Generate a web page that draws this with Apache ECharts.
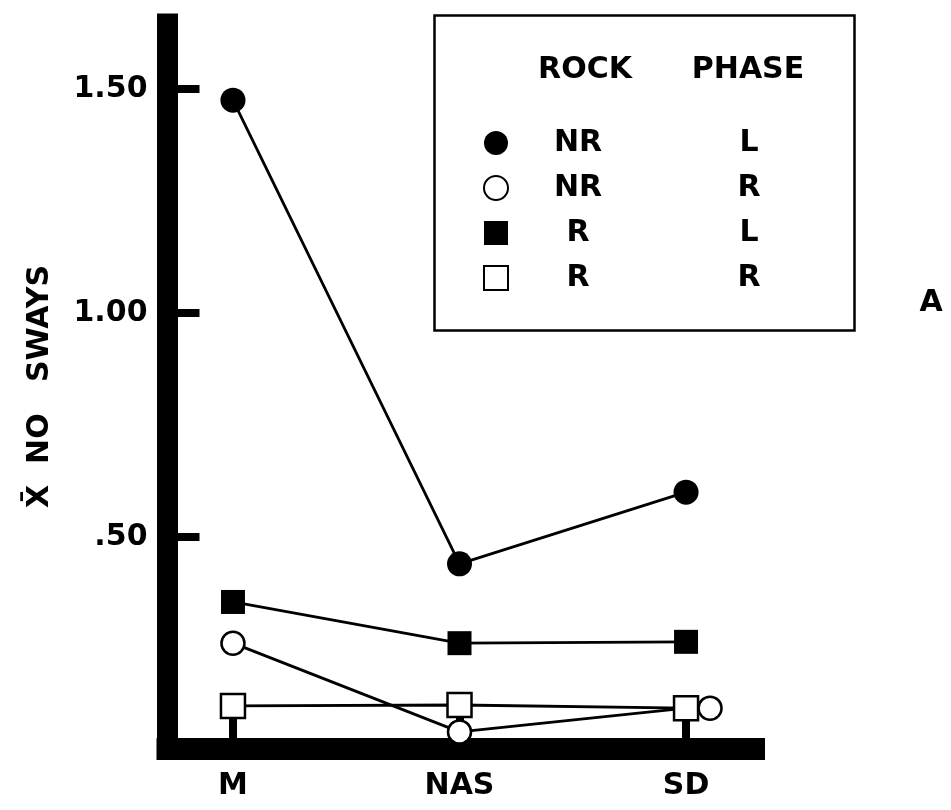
<!DOCTYPE html>
<html>
<head>
<meta charset="utf-8">
<script src="https://cdn.jsdelivr.net/npm/echarts@6/dist/echarts.min.js"></script>
<style>
html,body{margin:0;padding:0;background:#fff;}
#chart{width:951px;height:810px;}
</style>
</head>
<body>
<div id="chart"></div>
<script>
// ---- data ----
const categories = ['M', 'NAS', 'SD'];
const seriesNames = ['NR L', 'NR R', 'R L', 'R R'];
const rockLabels = ['NR', 'NR', 'R', 'R'];
const phaseLabels = ['L', 'R', 'L', 'R'];
const nrL = [1.475, 0.44, 0.60];
const nrR = [0.263, 0.065, 0.118];
const rL = [0.355, 0.263, 0.266];
const rR = [0.123, 0.125, 0.118];
const yTickValues = [0.5, 1.0, 1.5];
const yTickLabels = ['.50', '1.00', '1.50'];

const FONT = 'DejaVu Sans';
const chart = echarts.init(document.getElementById('chart'), null, {renderer: 'canvas'});

function toData(vals) {
  return vals.map((v, i) => [i, v]);
}

const lineStyle = {color: '#000', width: 2.8};

const nrRData = toData(nrR);
// open circle at SD drawn beside the square (as in the original figure)
nrRData[2] = {value: nrRData[2], symbolOffset: [24, 0]};

const option = {
  backgroundColor: '#fff',
  animation: false,
  grid: {left: 167.5, right: 197, top: 24, bottom: 61, containLabel: false},
  xAxis: {
    type: 'value',
    min: -0.289,
    max: 2.30,
    z: 3,
    axisLine: {show: true, onZero: false, lineStyle: {color: '#000', width: 22, cap: 'square'}},
    axisTick: {show: true, inside: true, length: 32, customValues: [0, 1, 2],
               lineStyle: {color: '#000', width: 8}},
    axisLabel: {show: true, customValues: [0, 1, 2], margin: 22,
                formatter: v => categories[Math.round(v)] || '',
                color: '#000', fontFamily: FONT, fontWeight: 'bold', fontSize: 30, lineHeight: 30},
    splitLine: {show: false}
  },
  yAxis: {
    type: 'value',
    min: 0.0268,
    max: 1.645,
    name: 'X\u0304  NO   SWAYS',
    nameLocation: 'middle',
    nameRotate: 90,
    nameGap: 112,
    nameTextStyle: {color: '#000', fontFamily: FONT, fontWeight: 'bold', fontSize: 30},
    z: 3,
    axisLine: {show: true, onZero: false, lineStyle: {color: '#000', width: 21, cap: 'square'}},
    axisTick: {show: true, inside: true, length: 32, customValues: yTickValues,
               lineStyle: {color: '#000', width: 8}},
    axisLabel: {show: true, customValues: yTickValues, margin: 20,
                formatter: v => {
                  const idx = yTickValues.findIndex(t => Math.abs(t - v) < 1e-6);
                  return idx >= 0 ? yTickLabels[idx] : '';
                },
                color: '#000', fontFamily: FONT, fontWeight: 'bold', fontSize: 30},
    splitLine: {show: false}
  },
  legend: {
    orient: 'vertical',
    left: 483,
    top: 128,
    padding: 0,
    itemWidth: 24,
    itemHeight: 24,
    itemGap: 15,
    selectedMode: false,
    data: [
      {name: seriesNames[0], icon: 'circle'},
      {name: seriesNames[1], icon: 'circle'},
      {name: seriesNames[2], icon: 'rect'},
      {name: seriesNames[3], icon: 'rect'}
    ],
    formatter: name => {
      const i = seriesNames.indexOf(name);
      return '{a|' + rockLabels[i] + '}{b|' + phaseLabels[i] + '}';
    },
    textStyle: {
      color: '#000', fontFamily: FONT, fontWeight: 'bold', fontSize: 30, lineHeight: 30,
      rich: {
        a: {width: 130, align: 'center', color: '#000', fontFamily: FONT, fontWeight: 'bold', fontSize: 30, lineHeight: 30},
        b: {width: 212, align: 'center', color: '#000', fontFamily: FONT, fontWeight: 'bold', fontSize: 30, lineHeight: 30}
      }
    }
  },
  graphic: [
    {type: 'rect', left: 432, top: 13, z: 10, silent: true,
     shape: {width: 420, height: 315},
     style: {fill: 'none', stroke: '#000', lineWidth: 2.5}},
    {type: 'text', z: 10, silent: true, x: 585, y: 70,
     style: {text: 'ROCK', fill: '#000', font: 'bold 30px "DejaVu Sans"', align: 'center', verticalAlign: 'middle'}},
    {type: 'text', z: 10, silent: true, x: 748, y: 70,
     style: {text: 'PHASE', fill: '#000', font: 'bold 30px "DejaVu Sans"', align: 'center', verticalAlign: 'middle'}},
    {type: 'text', z: 10, silent: true, x: 931, y: 303,
     style: {text: 'A', fill: '#000', font: 'bold 30px "DejaVu Sans"', align: 'center', verticalAlign: 'middle'}}
  ],
  series: [
    {name: seriesNames[0], type: 'line', data: toData(nrL), symbol: 'circle', symbolSize: 25,
     lineStyle: lineStyle, itemStyle: {color: '#000', borderColor: '#000', borderWidth: 0}},
    {name: seriesNames[1], type: 'line', data: nrRData, symbol: 'circle', symbolSize: 23,
     lineStyle: lineStyle, itemStyle: {color: '#fff', borderColor: '#000', borderWidth: 2.5}},
    {name: seriesNames[2], type: 'line', data: toData(rL), symbol: 'rect', symbolSize: 24,
     lineStyle: lineStyle, itemStyle: {color: '#000', borderColor: '#000', borderWidth: 0}},
    {name: seriesNames[3], type: 'line', data: toData(rR), symbol: 'rect', symbolSize: 24,
     lineStyle: lineStyle, itemStyle: {color: '#fff', borderColor: '#000', borderWidth: 2.5}}
  ]
};
chart.setOption(option);
</script>
</body>
</html>
